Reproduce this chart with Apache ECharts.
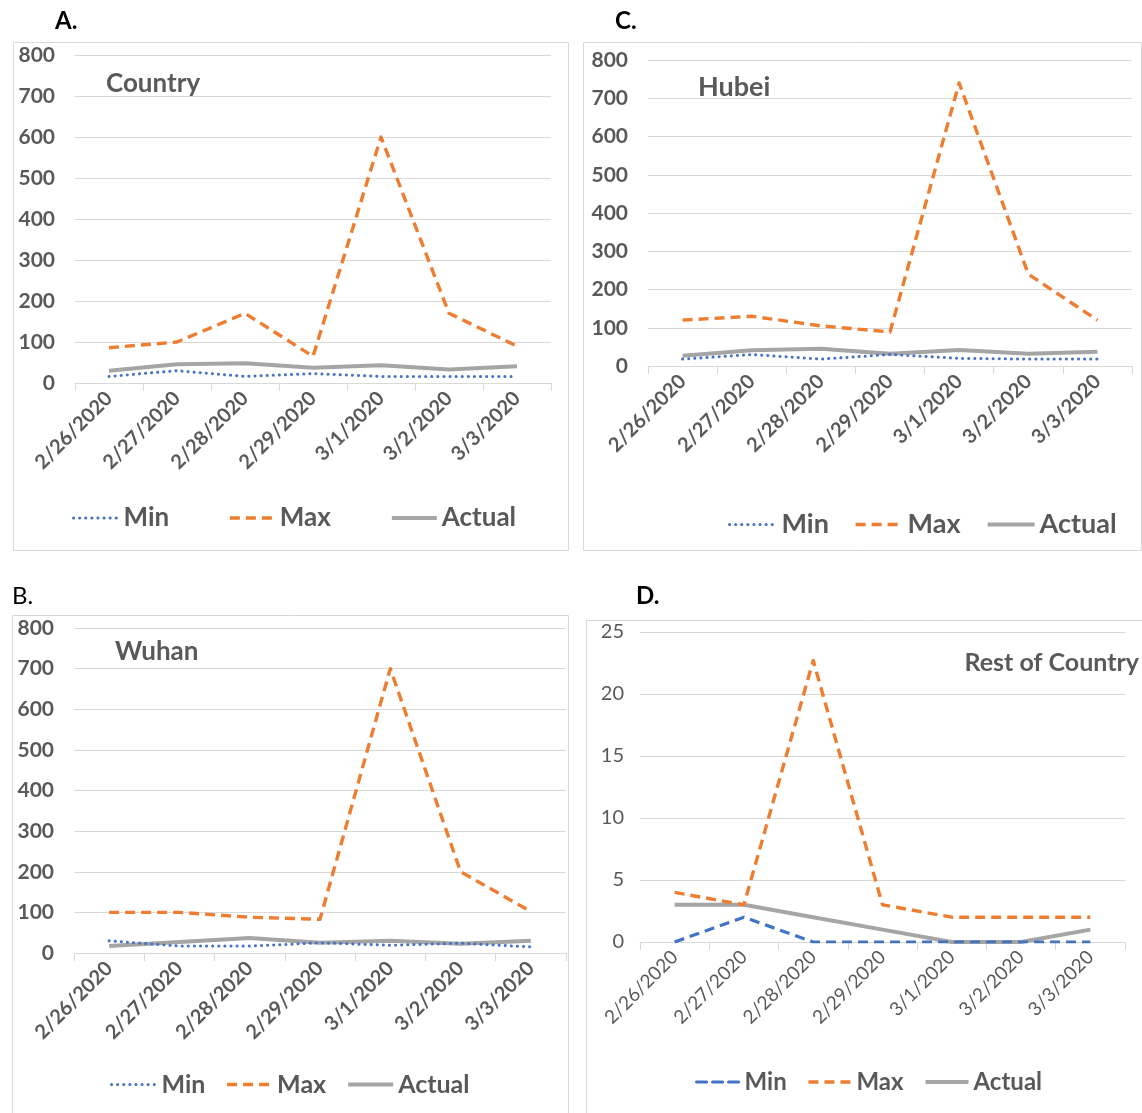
<!DOCTYPE html>
<html>
<head>
<meta charset="utf-8">
<script src="https://cdn.jsdelivr.net/npm/echarts@6/dist/echarts.min.js"></script>
<style>
  html, body { margin: 0; padding: 0; background: #ffffff; }
  #chart { width: 1142px; height: 1113px; }
</style>
</head>
<body>
<div id="chart"></div>
<script>
// Daily forecast range (Min / Max) against actual new cases, 26 Feb – 3 Mar 2020
const categories = ['2/26/2020', '2/27/2020', '2/28/2020', '2/29/2020', '3/1/2020', '3/2/2020', '3/3/2020'];

const countryMin    = [16, 30, 16, 23, 16, 16, 16];
const countryMax    = [86, 100, 170, 65, 600, 170, 90];
const countryActual = [30, 46, 48, 37, 43, 33, 41];

const hubeiMin    = [18, 30, 18, 30, 20, 18, 18];
const hubeiMax    = [120, 130, 105, 89, 740, 240, 120];
const hubeiActual = [27, 41, 45, 32, 42, 32, 37];

const wuhanMin    = [30, 17, 17, 25, 19, 24, 15];
const wuhanMax    = [100, 100, 88, 83, 700, 200, 102];
const wuhanActual = [17, 27, 37, 25, 30, 23, 30];

const restMin    = [0, 2, 0, 0, 0, 0, 0];
const restMax    = [4, 3, 22.7, 3, 2, 2, 2];
const restActual = [3, 3, 2, 1, 0, 0, 1];

const bigTicks   = { min: 0, max: 800, interval: 100 };
const smallTicks = { min: 0, max: 25, interval: 5 };

const BLUE = '#4472C4', ORANGE = '#ED7D31', GREY = '#A5A5A5';
const TEXT = '#595959', GRID = '#D9D9D9';
const FONT = 'Lato, "Open Sans", sans-serif';

// Panel layout: grid rectangle, frame, letter, title, legend placement
const panels = [
  { letter: 'A.', letterBold: true, letterPos: [55, 9],
    frame: [13, 42, 555, 508],
    grid: { left: 75, top: 55, width: 476, height: 328 },
    ticks: bigTicks, bold: true,
    title: 'Country', titleSize: 26, titlePos: { left: 106, top: 71 },
    legend: { left: 72, top: 505, itemGap: 59 }, legendSize: 26, iconW: 45,
    minDash: 'dot',
    data: [countryMin, countryMax, countryActual] },
  { letter: 'C.', letterBold: true, letterPos: [615, 9],
    frame: [583, 42, 558, 508],
    grid: { left: 648, top: 60, width: 484, height: 306 },
    ticks: bigTicks, bold: true,
    title: 'Hubei', titleSize: 27, titlePos: { left: 698, top: 74 },
    legend: { left: 728, top: 511, itemGap: 25 }, legendSize: 27, iconW: 47,
    minDash: 'dot',
    data: [hubeiMin, hubeiMax, hubeiActual] },
  { letter: 'B.', letterBold: false, letterPos: [12, 584],
    frame: [12, 615, 556, 520],
    grid: { left: 74, top: 628, width: 492, height: 325 },
    ticks: bigTicks, bold: true,
    title: 'Wuhan', titleSize: 26, titlePos: { left: 115, top: 639 },
    legend: { left: 110, top: 1072, itemGap: 20 }, legendSize: 25, iconW: 45,
    minDash: 'dot',
    data: [wuhanMin, wuhanMax, wuhanActual] },
  { letter: 'D.', letterBold: true, letterPos: [636, 584],
    frame: [586, 620, 560, 520],
    grid: { left: 640, top: 632, width: 485, height: 310 },
    ticks: smallTicks, bold: false,
    title: 'Rest of Country', titleSize: 25, titlePos: { right: 3, top: 650 },
    legend: { left: 695, top: 1070, itemGap: 20 }, legendSize: 24, iconW: 43,
    minDash: 'dash',
    data: [restMin, restMax, restActual] }
];

const DOT = [0.1, 6];
const DASH = [10, 6];

function minStyle(p) {
  return p.minDash === 'dot'
    ? { color: BLUE, width: 3, type: DOT, cap: 'round' }
    : { color: BLUE, width: 3.2, type: DASH };
}
const maxStyle = { color: ORANGE, width: 3.4, type: DASH };
const actualStyle = { color: GREY, width: 4, type: 'solid' };

const option = {
  backgroundColor: '#ffffff',
  animation: false,
  textStyle: { fontFamily: FONT },
  title: [],
  legend: [],
  grid: [],
  xAxis: [],
  yAxis: [],
  series: [],
  graphic: []
};

panels.forEach((p, i) => {
  // panel frame
  option.graphic.push({
    type: 'rect', silent: true, z: -1,
    shape: { x: p.frame[0] + 0.5, y: p.frame[1] + 0.5, width: p.frame[2], height: p.frame[3] },
    style: { fill: 'none', stroke: GRID, lineWidth: 1 }
  });
  // panel letter
  option.graphic.push({
    type: 'text', silent: true,
    left: p.letterPos[0], top: p.letterPos[1],
    style: {
      text: p.letter, fill: '#000000', fontSize: 24, fontFamily: FONT,
      fontWeight: p.letterBold ? 'bold' : 'normal'
    }
  });
  // panel title inside the plot
  option.title.push(Object.assign({
    text: p.title,
    padding: 0,
    textStyle: { color: TEXT, fontSize: p.titleSize, fontWeight: 'bold', fontFamily: FONT }
  }, p.titlePos));

  option.grid.push(Object.assign({ containLabel: false }, p.grid));

  option.xAxis.push({
    type: 'category', gridIndex: i, data: categories, boundaryGap: true,
    axisLine: { show: true, lineStyle: { color: GRID, width: 1 } },
    axisTick: { show: true, length: 8, lineStyle: { color: GRID } },
    axisLabel: {
      rotate: 45, margin: 12, color: TEXT, fontSize: p.bold ? 20 : 19,
      fontWeight: p.bold ? 'bold' : 'normal', fontFamily: FONT, interval: 0
    },
    splitLine: { show: false }
  });

  option.yAxis.push({
    type: 'value', gridIndex: i,
    min: p.ticks.min, max: p.ticks.max, interval: p.ticks.interval,
    axisLine: { show: false }, axisTick: { show: false },
    axisLabel: {
      margin: p.bold ? 20 : 16, color: TEXT, fontSize: p.bold ? 21 : 20,
      fontWeight: p.bold ? 'bold' : 'normal', fontFamily: FONT
    },
    splitLine: { lineStyle: { color: GRID, width: 1 } }
  });

  const names = ['Min', 'Max', 'Actual'];
  const styles = [minStyle(p), maxStyle, actualStyle];
  names.forEach((n, k) => {
    option.series.push({
      name: n, type: 'line', xAxisIndex: i, yAxisIndex: i,
      data: p.data[k], symbol: 'none', smooth: false,
      z: k === 1 ? 3 : (k === 0 ? 4 : 2),
      lineStyle: Object.assign({ join: 'round' }, styles[k])
    });
  });

  option.legend.push(Object.assign({
    orient: 'horizontal', padding: 0,
    itemWidth: p.iconW, itemHeight: 14,
    selectedMode: false,
    lineStyle: { width: 'inherit' },
    textStyle: { color: TEXT, fontSize: p.legendSize, fontWeight: 'bold', fontFamily: FONT },
    data: names.map((n, k) => ({ name: n, lineStyle: styles[k], itemStyle: { opacity: 0 } }))
  }, p.legend));
});

const chart = echarts.init(document.getElementById('chart'), null, { renderer: 'canvas' });
chart.setOption(option);
</script>
</body>
</html>
